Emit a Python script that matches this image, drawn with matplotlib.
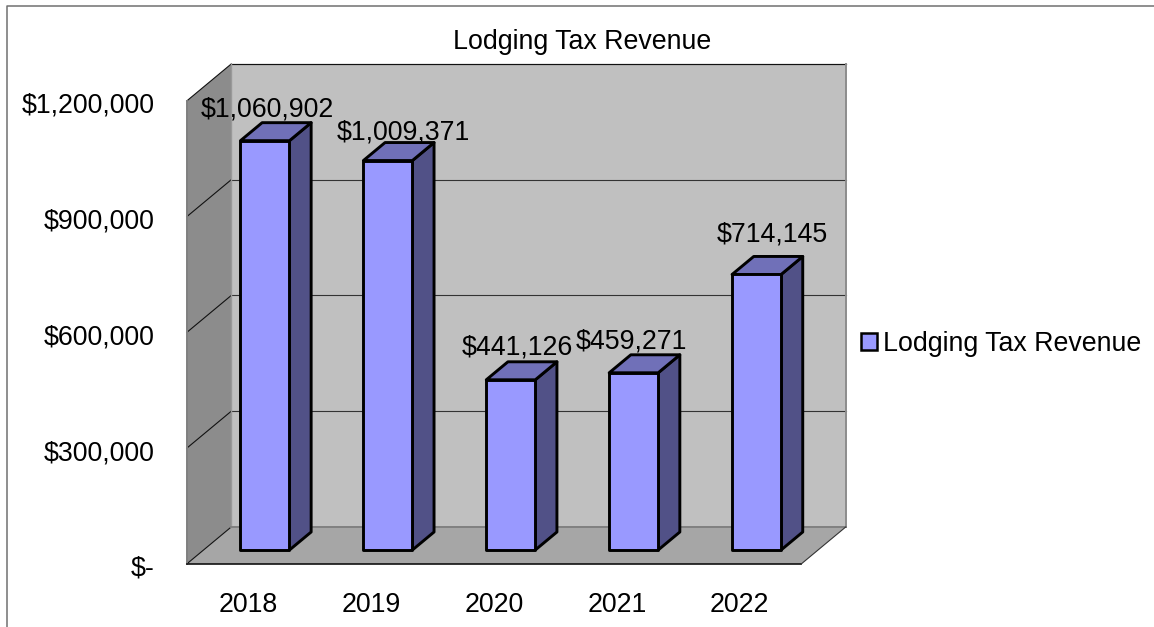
import matplotlib
matplotlib.use('Agg')
import matplotlib.pyplot as plt
from matplotlib.lines import Line2D
from matplotlib.patches import Patch, Polygon
from matplotlib.transforms import ScaledTranslation

plt.rcParams['font.family'] = ['Liberation Sans', 'DejaVu Sans']

years = ["2018", "2019", "2020", "2021", "2022"]
revenue = [1060902, 1009371, 441126, 459271, 714145]
revenue_labels = ["$1,060,902", "$1,009,371", "$441,126", "$459,271", "$714,145"]
tick_values = [0, 300000, 600000, 900000, 1200000]
tick_labels = ["$-", "$300,000", "$600,000", "$900,000", "$1,200,000"]
series_name = "Lodging Tax Revenue"

# label nudges from the front top centre of each bar, in pixels
label_dx = [2, 15, 7, -2, 16]
label_dy = [31, 28, 32, 31, 40]

W, H = 1154, 627
FACE = "#9999FF"
SIDE = "#515187"
TOP = "#7070B8"
FONT = 19.3

fig = plt.figure(figsize=(W / 100, H / 100), dpi=100)
ax = fig.add_axes([186.7 / W, 1 - 564 / H, 614.5 / W, 463 / H])
ax.set_xlim(-0.5, 4.5)
ax.set_ylim(0, 1200000)
ax.set_frame_on(False)

# depth of the fake 3d box, in data units
DX = 44.5 / 122.9
DY = 37 / 463 * 1200000


def project(x, v, d):
    return (x + d * DX, v + d * DY)


def poly(points, **kw):
    ax.add_patch(Polygon(points, closed=True, clip_on=False, **kw))


# walls and floor
x0, x1 = -0.5, 4.5
vmax = tick_values[-1]
poly([project(x0, 0, 1), project(x1, 0, 1), project(x1, vmax, 1), project(x0, vmax, 1)],
     facecolor="#C0C0C0", edgecolor="none", zorder=1)
poly([project(x0, 0, 0), project(x0, 0, 1), project(x0, vmax, 1), project(x0, vmax, 0)],
     facecolor="#8C8C8C", edgecolor="none", zorder=1)
poly([project(x0, 0, 0), project(x1, 0, 0), project(x1, 0, 1), project(x0, 0, 1)],
     facecolor="#A6A6A6", edgecolor="none", zorder=1)


def seg(a, b, color="#333333", lw=0.8, z=2):
    ax.plot([a[0], b[0]], [a[1], b[1]], color=color, lw=lw, zorder=z, clip_on=False,
            solid_capstyle="projecting")


# gridlines on the back wall and the left wall
for v in tick_values:
    seg(project(x0, v, 0), project(x0, v, 1), color="#111111")
    if v > 0:
        seg(project(x0, v, 1), project(x1, v, 1))
seg(project(x0, vmax, 1), project(x1, vmax, 1), color="#111111")

# wall edges
seg(project(x0, 0, 0), project(x0, vmax, 0), color="#808080", lw=1.4)
seg(project(x0, 0, 1), project(x0, vmax, 1), color="#999999", lw=1.0)
seg(project(x1, 0, 1), project(x1, vmax, 1), color="#8C8C8C", lw=1.4)
seg(project(x0, 0, 1), project(x1, 0, 1), color="#808080", lw=1.4)
seg(project(x0, 0, 0), project(x1, 0, 0), color="#111111", lw=1.2)
seg(project(x1, 0, 0), project(x1, 0, 1), color="#333333", lw=0.8)

# bars
BAR_W = 49 / 122.9
D_FRONT = 14 / 37
D_BACK = 32 / 37
for i, value in enumerate(revenue):
    left, right = i - BAR_W / 2, i + BAR_W / 2
    style = dict(edgecolor="black", linewidth=2.1, joinstyle="round", zorder=3 + i)
    poly([project(right, 0, D_FRONT), project(right, 0, D_BACK),
          project(right, value, D_BACK), project(right, value, D_FRONT)],
         facecolor=SIDE, **style)
    poly([project(left, value, D_FRONT), project(right, value, D_FRONT),
          project(right, value, D_BACK), project(left, value, D_BACK)],
         facecolor=TOP, **style)
    poly([project(left, 0, D_FRONT), project(right, 0, D_FRONT),
          project(right, value, D_FRONT), project(left, value, D_FRONT)],
         facecolor=FACE, **style)
    ax.annotate(revenue_labels[i], xy=project(i, value, D_FRONT),
                xytext=(label_dx[i] * 0.72, label_dy[i] * 0.72), textcoords="offset points",
                ha="center", va="center", fontsize=FONT, color="black", zorder=20,
                annotation_clip=False)

# axis text
ax.set_xticks(range(len(years)))
ax.set_xticklabels(years, fontsize=FONT)
ax.set_yticks(tick_values)
ax.set_yticklabels(tick_labels, fontsize=FONT)
ax.tick_params(axis="x", length=0, pad=20.5)
ax.tick_params(axis="y", length=0, pad=23)
shift = ScaledTranslation(0, -2 / 100, fig.dpi_scale_trans)
for label in ax.get_yticklabels():
    label.set_transform(label.get_transform() + shift)

fig.text(582.5 / W, 1 - 42 / H, series_name, ha="center", va="center", fontsize=FONT)

ax.legend(handles=[Patch(facecolor=FACE, edgecolor="black", linewidth=1.8, label=series_name)],
          loc="center left", bbox_to_anchor=(861 / W, 1 - 344 / H),
          bbox_transform=fig.transFigure, frameon=False, fontsize=FONT,
          borderpad=0, borderaxespad=0, handlelength=0.58, handleheight=0.58,
          handletextpad=0.24)

# outer chart border, cut off by the image edge
fig.add_artist(Line2D([7 / W, 7 / W, 1], [0, 1 - 6 / H, 1 - 6 / H], color="#707070", lw=1.1))

fig.savefig("out.png", dpi=100)
